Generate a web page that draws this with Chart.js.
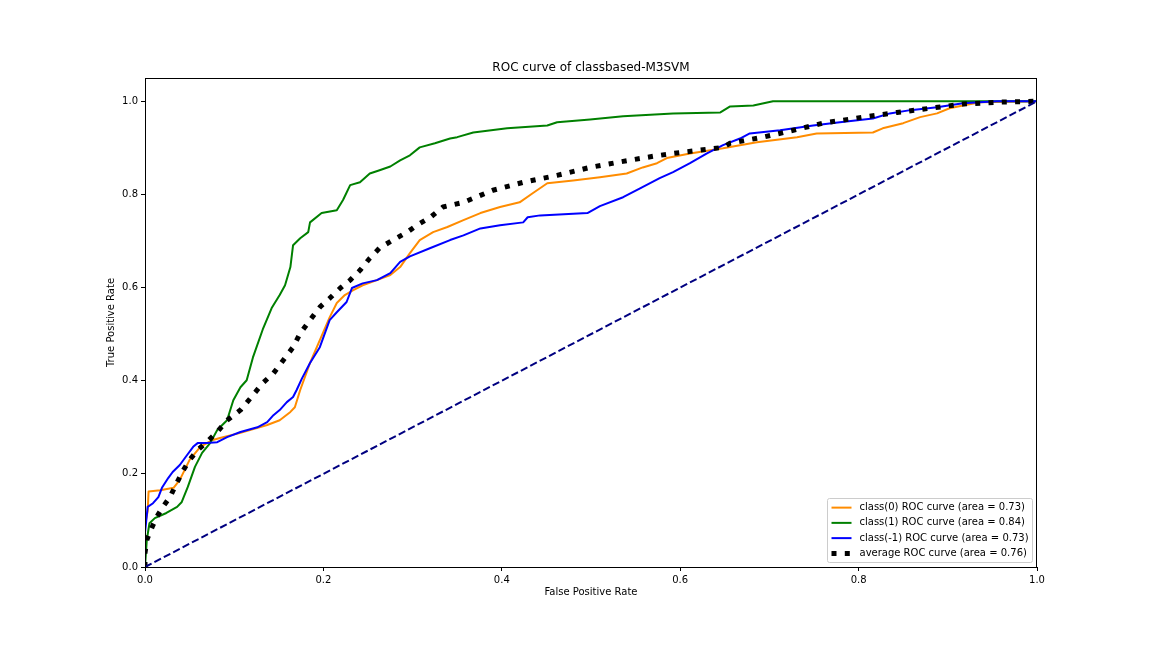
<!DOCTYPE html>
<html>
<head>
<meta charset="utf-8">
<script src="https://cdn.jsdelivr.net/npm/chart.js@4/dist/chart.umd.min.js"></script>
<style>
  html, body { margin: 0; padding: 0; background: #fff; }
  canvas { display: block; }
</style>
</head>
<body>
<canvas id="roc" width="1152" height="648"></canvas>
<script>
// Data

const chartTitle = 'ROC curve of classbased-M3SVM';
const xTitle = 'False Positive Rate';
const yTitle = 'True Positive Rate';
const xTicks = [0.0, 0.2, 0.4, 0.6, 0.8, 1.0];
const yTicks = [0.0, 0.2, 0.4, 0.6, 0.8, 1.0];

const class0Label = 'class(0) ROC curve (area = 0.73)';
const class0Fpr = [0, 0, 0.003, 0.004, 0.017, 0.032, 0.039, 0.05, 0.062, 0.075, 0.084, 0.107, 0.137, 0.151, 0.163, 0.168,
  0.174, 0.185, 0.196, 0.207, 0.215, 0.224, 0.233, 0.244, 0.26, 0.275, 0.286, 0.297, 0.308, 0.323, 0.339, 0.357, 0.376,
  0.398, 0.42, 0.435, 0.451, 0.48, 0.51, 0.54, 0.558, 0.574, 0.585, 0.611, 0.648, 0.686, 0.731, 0.753, 0.816, 0.827,
  0.85, 0.869, 0.888, 0.902, 0.917, 0.936, 1.0];
const class0Tpr = [0, 0.09, 0.12, 0.162, 0.165, 0.17, 0.187, 0.23, 0.258, 0.272, 0.277, 0.288, 0.305, 0.315, 0.333, 0.343,
  0.38, 0.438, 0.487, 0.536, 0.567, 0.584, 0.594, 0.605, 0.616, 0.627, 0.644, 0.674, 0.702, 0.719, 0.73, 0.745, 0.76,
  0.773, 0.783, 0.803, 0.824, 0.83, 0.837, 0.845, 0.858, 0.867, 0.878, 0.888, 0.899, 0.912, 0.923, 0.931, 0.933, 0.942,
  0.953, 0.966, 0.974, 0.985, 0.991, 0.998, 1.0];

const class1Label = 'class(1) ROC curve (area = 0.84)';
const class1Fpr = [0, 0.002, 0.005, 0.011, 0.024, 0.036, 0.041, 0.048, 0.056, 0.064, 0.073, 0.081, 0.092, 0.099, 0.107,
  0.114, 0.121, 0.132, 0.142, 0.151, 0.157, 0.163, 0.166, 0.174, 0.183, 0.185, 0.198, 0.215, 0.222, 0.23, 0.241, 0.252,
  0.263, 0.275, 0.286, 0.297, 0.308, 0.325, 0.342, 0.35, 0.368, 0.406, 0.451, 0.462, 0.499, 0.536, 0.592, 0.645, 0.656,
  0.682, 0.704, 1.0];
const class1Tpr = [0, 0.058, 0.094, 0.105, 0.116, 0.129, 0.139, 0.172, 0.215, 0.245, 0.266, 0.294, 0.315, 0.358, 0.386,
  0.401, 0.45, 0.51, 0.556, 0.584, 0.605, 0.644, 0.691, 0.706, 0.719, 0.74, 0.76, 0.766, 0.788, 0.82, 0.826, 0.845,
  0.852, 0.86, 0.873, 0.884, 0.901, 0.91, 0.92, 0.923, 0.933, 0.942, 0.948, 0.955, 0.961, 0.968, 0.974, 0.976, 0.989,
  0.991, 1.0, 1.0];

const classM1Label = 'class(-1) ROC curve (area = 0.73)';
const classM1Fpr = [0, 0, 0.003, 0.009, 0.015, 0.019, 0.026, 0.031, 0.039, 0.047, 0.054, 0.059, 0.069, 0.081, 0.092,
  0.107, 0.126, 0.137, 0.144, 0.151, 0.159, 0.166, 0.17, 0.176, 0.185, 0.196, 0.207, 0.215, 0.226, 0.232, 0.244, 0.26,
  0.275, 0.286, 0.297, 0.32, 0.342, 0.357, 0.376, 0.398, 0.424, 0.429, 0.443, 0.496, 0.51, 0.536, 0.555, 0.577, 0.592,
  0.611, 0.63, 0.648, 0.667, 0.678, 0.712, 0.749, 0.779, 0.816, 0.835, 0.858, 0.888, 0.917, 0.955, 1.0];
const classM1Tpr = [0, 0.073, 0.129, 0.137, 0.15, 0.17, 0.191, 0.204, 0.219, 0.24, 0.258, 0.266, 0.266, 0.268, 0.279,
  0.29, 0.3, 0.311, 0.326, 0.337, 0.354, 0.365, 0.38, 0.405, 0.438, 0.472, 0.53, 0.547, 0.569, 0.599, 0.609, 0.616,
  0.631, 0.655, 0.667, 0.685, 0.702, 0.712, 0.727, 0.734, 0.74, 0.751, 0.755, 0.76, 0.775, 0.794, 0.813, 0.835, 0.848,
  0.867, 0.888, 0.906, 0.92, 0.931, 0.938, 0.948, 0.955, 0.963, 0.974, 0.981, 0.987, 0.996, 1.0, 1.0];

const averageLabel = 'average ROC curve (area = 0.76)';
const averageFpr = [0, 0, 0.002, 0.008, 0.013, 0.02, 0.028, 0.036, 0.043, 0.05, 0.059, 0.069, 0.081, 0.092, 0.107,
  0.118, 0.132, 0.144, 0.155, 0.166, 0.174, 0.185, 0.196, 0.207, 0.219, 0.23, 0.241, 0.252, 0.263, 0.278, 0.294, 0.305,
  0.32, 0.334, 0.357, 0.376, 0.39, 0.424, 0.462, 0.499, 0.536, 0.57, 0.592, 0.622, 0.648, 0.656, 0.693, 0.723, 0.76,
  0.805, 0.843, 0.88, 0.917, 0.955, 1.0];
const averageTpr = [0, 0.03, 0.058, 0.086, 0.107, 0.129, 0.15, 0.182, 0.208, 0.23, 0.251, 0.268, 0.29, 0.315, 0.337,
  0.362, 0.395, 0.416, 0.444, 0.472, 0.502, 0.53, 0.558, 0.577, 0.599, 0.616, 0.637, 0.663, 0.685, 0.702, 0.719, 0.734,
  0.751, 0.773, 0.783, 0.798, 0.809, 0.826, 0.841, 0.858, 0.871, 0.882, 0.888, 0.895, 0.901, 0.91, 0.923, 0.936, 0.953,
  0.966, 0.976, 0.985, 0.994, 0.998, 1.0];

const chanceFpr = [0, 1];
const chanceTpr = [0, 1];


// Chart

const FONT = '"DejaVu Sans", sans-serif';
Chart.defaults.font.family = FONT;
Chart.defaults.font.size = 10;
Chart.defaults.color = '#000';

function points(xs, ys) {
  return xs.map((x, i) => ({ x: x, y: ys[i] }));
}

function curve(label, xs, ys, color, width, dash, order) {
  return {
    label: label,
    data: points(xs, ys),
    showLine: true,
    borderColor: color,
    backgroundColor: color,
    borderWidth: width,
    borderDash: dash,
    borderCapStyle: 'butt',
    borderJoinStyle: 'round',
    pointRadius: 0,
    pointHoverRadius: 0,
    fill: false,
    tension: 0,
    order: order
  };
}

// axes box (matplotlib spines) drawn over the curves
const framePlugin = {
  id: 'frame',
  afterDatasetsDraw(chart) {
    const { ctx, chartArea: a } = chart;
    ctx.save();
    ctx.strokeStyle = '#000';
    ctx.lineWidth = 1;
    ctx.strokeRect(Math.round(a.left) + 0.5, Math.round(a.top) + 0.5,
      Math.round(a.right - a.left) - 1, Math.round(a.bottom - a.top));
    ctx.restore();
  }
};

// title centred over the axes
const titlePlugin = {
  id: 'axesTitle',
  afterDraw(chart) {
    const { ctx, chartArea: a } = chart;
    ctx.save();
    ctx.font = '12px ' + FONT;
    ctx.fillStyle = '#000';
    ctx.textAlign = 'center';
    ctx.textBaseline = 'middle';
    ctx.fillText(chartTitle, (a.left + a.right) / 2, a.top - 10);
    ctx.restore();
  }
};

// legend box in the lower right corner, like plt.legend(loc="lower right")
const legendPlugin = {
  id: 'mplLegend',
  afterDraw(chart) {
    const { ctx, chartArea: a } = chart;
    const items = chart.data.datasets.filter(d => d.label);
    ctx.save();
    ctx.font = '10px ' + FONT;
    const textW = Math.max(...items.map(d => ctx.measureText(d.label).width));
    const pad = 4, handleLen = 20, handleGap = 8, rowH = 10.25, rowGap = 5;
    const w = pad * 2 + handleLen + handleGap + textW;
    const h = pad * 2 + items.length * rowH + (items.length - 1) * rowGap;
    const x0 = Math.round(a.right - 5 - w) + 0.5;
    const y0 = Math.round(a.bottom - 5 - h) + 0.5;

    ctx.beginPath();
    ctx.roundRect(x0, y0, Math.round(w), Math.round(h), 2);
    ctx.fillStyle = 'rgba(255,255,255,0.8)';
    ctx.fill();
    ctx.strokeStyle = '#cccccc';
    ctx.lineWidth = 1;
    ctx.stroke();

    items.forEach((d, i) => {
      const cy = y0 + pad + i * (rowH + rowGap) + rowH / 2;
      ctx.beginPath();
      ctx.setLineDash(d.borderDash || []);
      ctx.lineWidth = d.borderWidth;
      ctx.lineCap = 'butt';
      ctx.strokeStyle = d.borderColor;
      ctx.moveTo(x0 + pad, cy);
      ctx.lineTo(x0 + pad + handleLen, cy);
      ctx.stroke();
      ctx.setLineDash([]);
      ctx.fillStyle = '#000';
      ctx.textAlign = 'left';
      ctx.textBaseline = 'middle';
      ctx.fillText(d.label, x0 + pad + handleLen + handleGap, cy);
    });
    ctx.restore();
  }
};

const tickFmt = v => Number(v).toFixed(1);

new Chart(document.getElementById('roc'), {
  type: 'scatter',
  data: {
    datasets: [
      curve(class0Label, class0Fpr, class0Tpr, '#ff8c00', 2, [], 5),
      curve(class1Label, class1Fpr, class1Tpr, '#008000', 2, [], 4),
      curve(classM1Label, classM1Fpr, classM1Tpr, '#0000ff', 2, [], 3),
      curve(averageLabel, averageFpr, averageTpr, '#000000', 5, [5, 8.3], 2),
      curve('', chanceFpr, chanceTpr, '#000080', 2, [7.4, 3.2], 1)
    ]
  },
  options: {
    responsive: false,
    devicePixelRatio: 1,
    animation: false,
    events: [],
    layout: { padding: { left: 0, right: 115, top: 78, bottom: 0 } },
    plugins: {
      legend: { display: false },
      title: { display: false },
      tooltip: { enabled: false }
    },
    scales: {
      x: {
        type: 'linear',
        min: 0,
        max: 1,
        afterBuildTicks: s => { s.ticks = xTicks.map(v => ({ value: v })); },
        afterFit: s => { s.height = 81; },
        ticks: { padding: 3, callback: tickFmt, maxRotation: 0, autoSkip: false },
        grid: { drawOnChartArea: false, drawTicks: true, tickLength: 4, color: '#000', lineWidth: 1 },
        border: { display: false },
        title: { display: true, text: xTitle, padding: { top: 0, bottom: 50 } }
      },
      y: {
        type: 'linear',
        min: 0,
        max: 1.05,
        afterBuildTicks: s => { s.ticks = yTicks.map(v => ({ value: v })); },
        afterFit: s => { s.width = 145; },
        ticks: { padding: 3, callback: tickFmt, autoSkip: false },
        grid: { drawOnChartArea: false, drawTicks: true, tickLength: 4, color: '#000', lineWidth: 1 },
        border: { display: false },
        title: { display: true, text: yTitle, padding: { top: 105, bottom: 0 } }
      }
    }
  },
  plugins: [framePlugin, titlePlugin, legendPlugin]
});
</script>
</body>
</html>
